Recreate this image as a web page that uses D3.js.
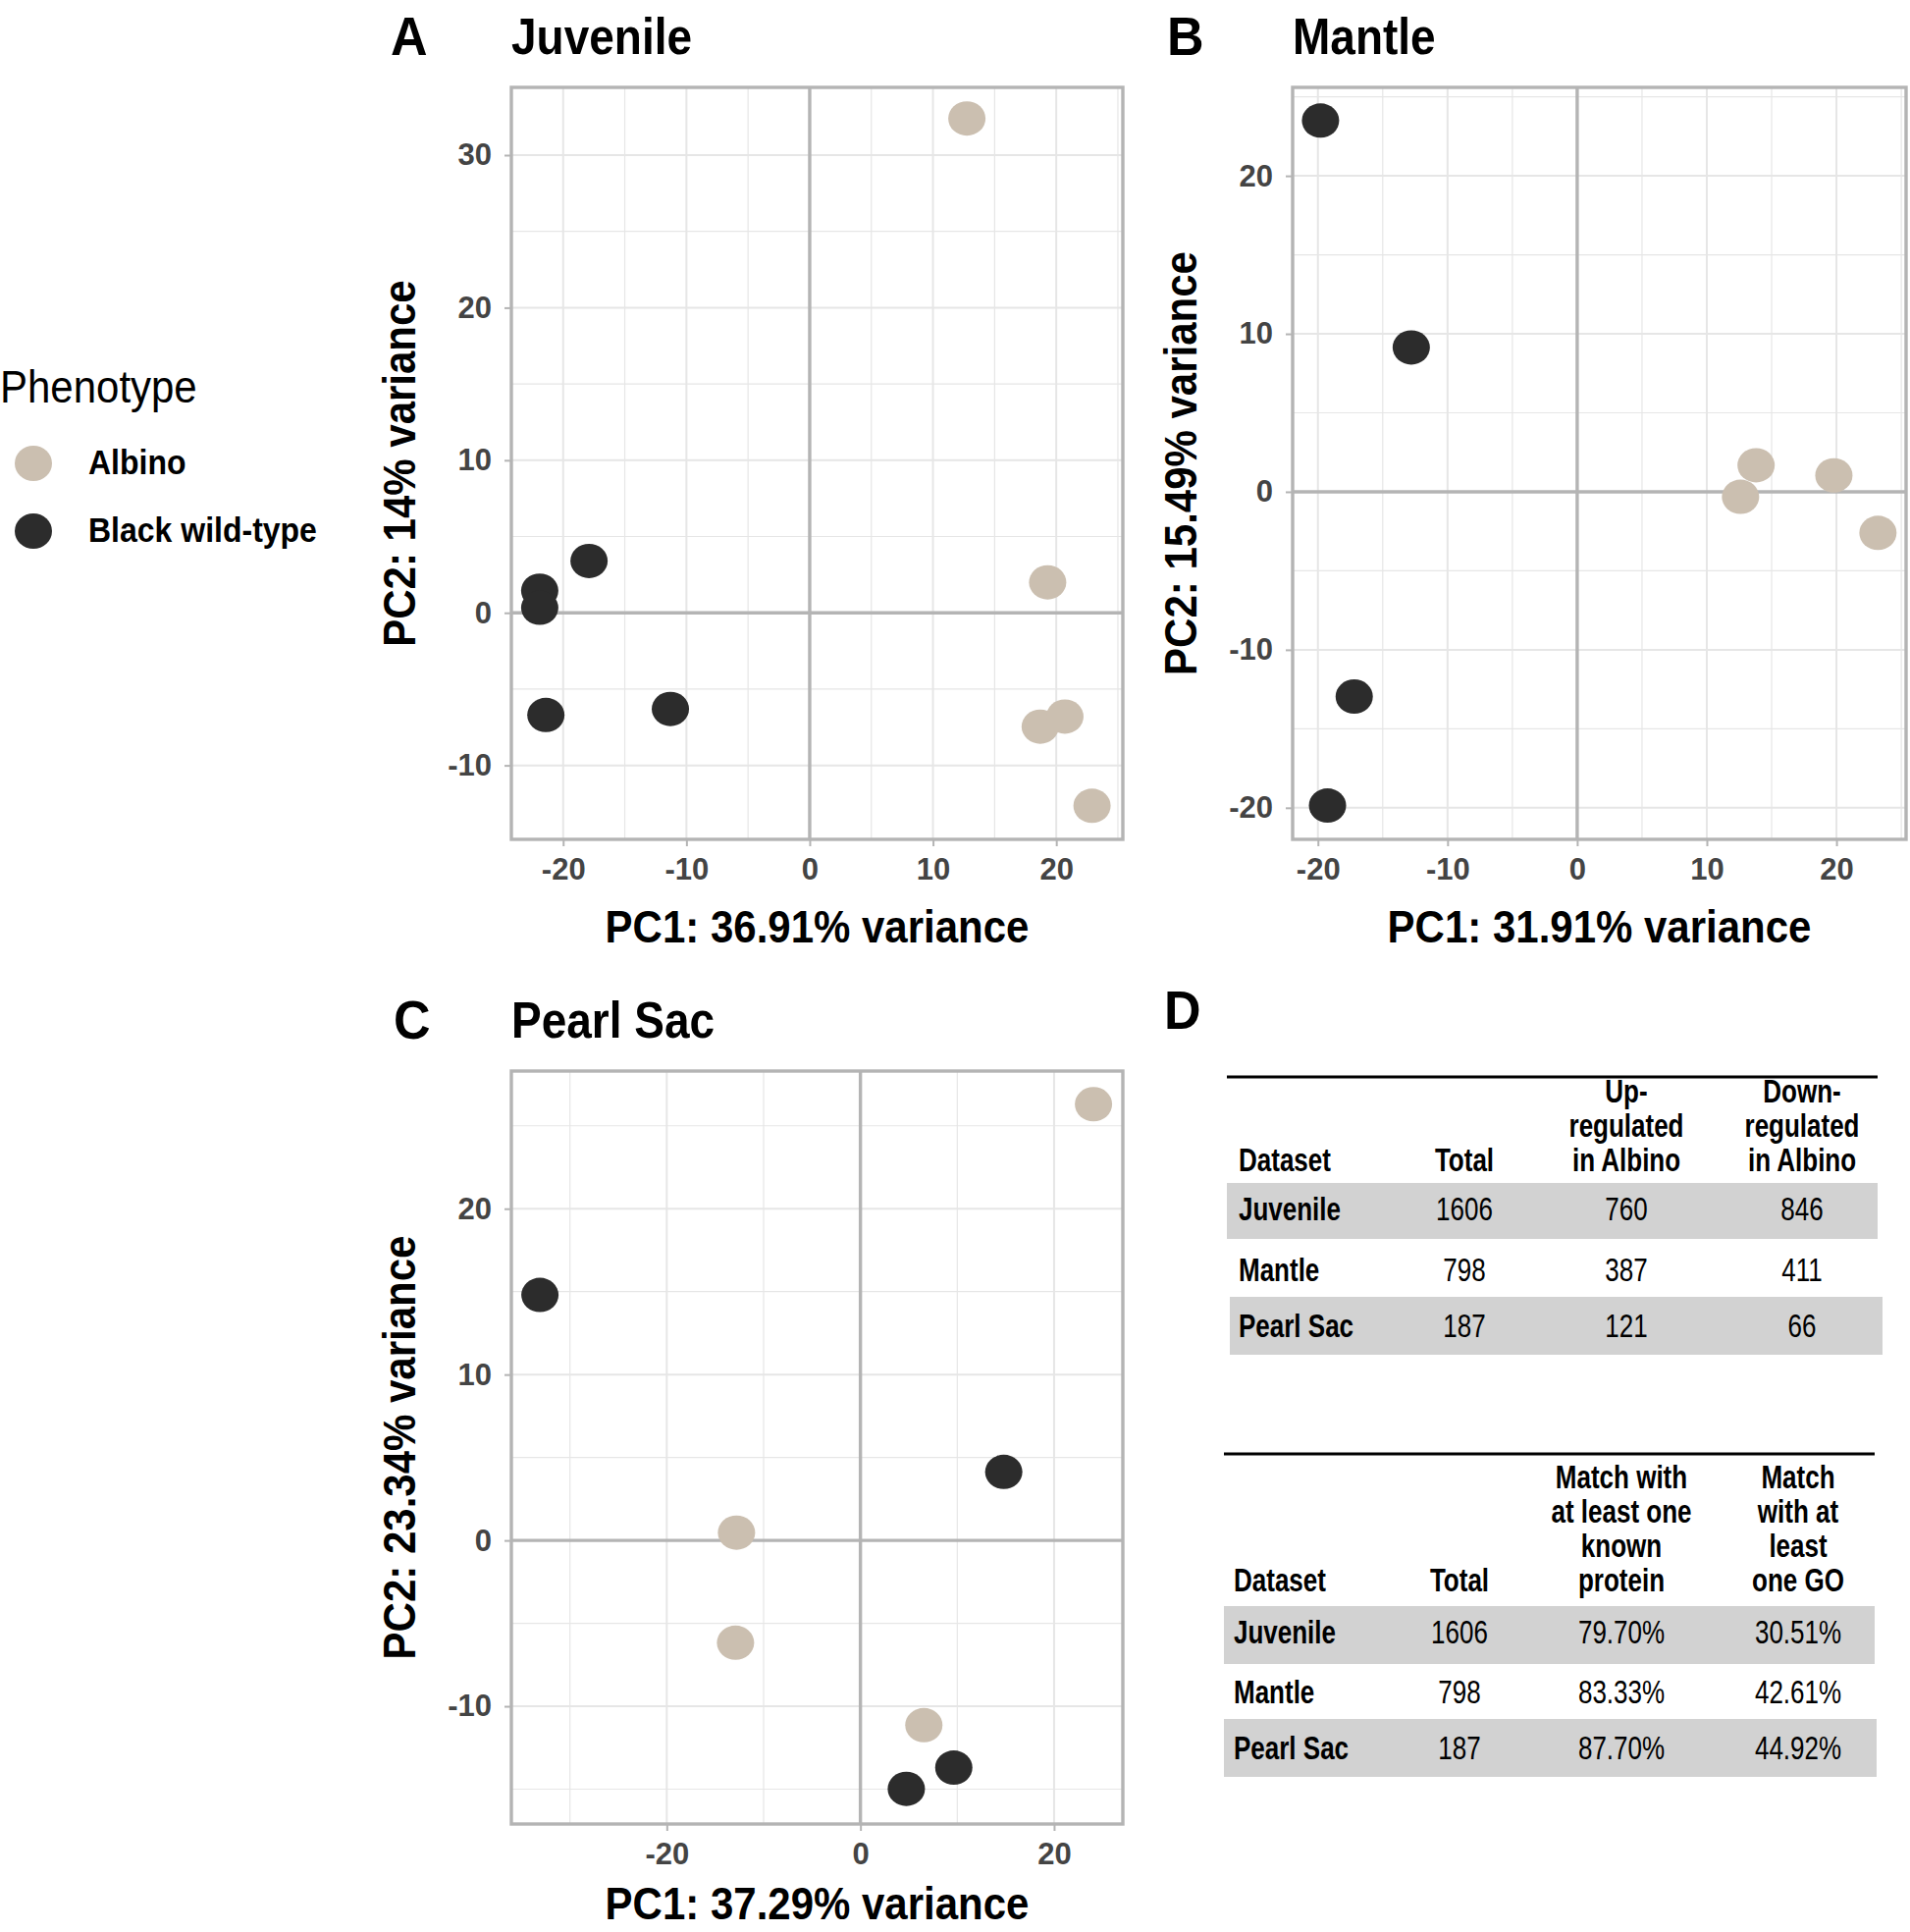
<!DOCTYPE html>
<html><head><meta charset="utf-8">
<script src="https://cdn.jsdelivr.net/npm/d3@7/dist/d3.min.js"></script>
<style>html,body{margin:0;padding:0;background:#fff;}svg{display:block;}</style>
</head><body>
<script>
// ---------- data ----------
const phenotypes = ["Albino", "Black wild-type"];
const phenoColors = ["#cbbfb0", "#2c2c2c"];

const juvenilePC1 = [12.75, 19.3, 18.7, 20.7, 22.9, -21.9, -21.9, -17.9, -21.4, -11.3];
const juvenilePC2 = [32.4, 2.0, -7.46, -6.8, -12.65, 1.45, 0.33, 3.4, -6.7, -6.3];
const juvenileGroup = ["Albino","Albino","Albino","Albino","Albino","Black wild-type","Black wild-type","Black wild-type","Black wild-type","Black wild-type"];

const mantlePC1 = [13.8, 12.6, 19.8, 23.2, -19.8, -12.8, -17.2, -19.26];
const mantlePC2 = [1.68, -0.32, 1.04, -2.6, 23.5, 9.14, -12.96, -19.86];
const mantleGroup = ["Albino","Albino","Albino","Albino","Black wild-type","Black wild-type","Black wild-type","Black wild-type"];

const pearlPC1 = [24.07, -12.8, -12.9, 6.55, -33.1, 14.8, 9.64, 4.74];
const pearlPC2 = [26.3, 0.47, -6.17, -11.14, 14.8, 4.13, -13.7, -14.98];
const pearlGroup = ["Albino","Albino","Albino","Albino","Black wild-type","Black wild-type","Black wild-type","Black wild-type"];

const juvenileXTicks = [-20, -10, 0, 10, 20];
const juvenileYTicks = [-10, 0, 10, 20, 30];
const mantleXTicks = [-20, -10, 0, 10, 20];
const mantleYTicks = [-20, -10, 0, 10, 20];
const pearlXTicks = [-20, 0, 20];
const pearlYTicks = [-10, 0, 10, 20];

const tableDatasets = ["Juvenile", "Mantle", "Pearl Sac"];
const degTotal = [1606, 798, 187];
const degUp = [760, 387, 121];
const degDown = [846, 411, 66];
const degHeaders = [["Dataset"], ["Total"], ["Up-", "regulated", "in Albino"], ["Down-", "regulated", "in Albino"]];

const annotTotal = [1606, 798, 187];
const annotProtein = ["79.70%", "83.33%", "87.70%"];
const annotGO = ["30.51%", "42.61%", "44.92%"];
const annotHeaders = [["Dataset"], ["Total"], ["Match with", "at least one", "known", "protein"], ["Match", "with at", "least", "one GO"]];

// ---------- drawing ----------
const W = 1946, H = 1968;
const FONT = "'Liberation Sans', Arial, Helvetica, sans-serif";
const svg = d3.select("body").append("svg").attr("width", W).attr("height", H)
  .style("font-family", FONT);

function txt(parent, x, y, s, o = {}) {
  let tr = `translate(${x},${y})`;
  if (o.rot) tr += ` rotate(${o.rot})`;
  tr += ` scale(1,${o.sy || 1})`;
  return parent.append("text").attr("transform", tr)
    .attr("text-anchor", o.anchor || "start")
    .attr("font-size", o.size || 20)
    .attr("font-weight", o.weight || "normal")
    .attr("fill", o.fill || "#000")
    .text(s);
}

const GRID = "#e6e6e6", BORDER = "#b4b4b4";

function panel(cfg) {
  const {left, right, top, bottom, xDom, yDom, xTicks, yTicks, pc1, pc2, grp, title, letter, letterX, xTitle, yTitle, yTitleX, xTitleOff} = cfg;
  const x = d3.scaleLinear().domain(xDom).range([left, right]);
  const y = d3.scaleLinear().domain(yDom).range([bottom, top]);
  const g = svg.append("g");
  const clipId = "clip" + letter;
  g.append("clipPath").attr("id", clipId).append("rect")
    .attr("x", left).attr("y", top).attr("width", right - left).attr("height", bottom - top);

  // minor + major grid
  const step = xTicks[1] - xTicks[0];
  const ystep = yTicks[1] - yTicks[0];
  const xMinor = d3.range(Math.ceil(xDom[0] / (step / 2)) * (step / 2), xDom[1], step / 2)
    .filter(v => !xTicks.includes(v));
  const yMinor = d3.range(Math.ceil(yDom[0] / (ystep / 2)) * (ystep / 2), yDom[1], ystep / 2)
    .filter(v => !yTicks.includes(v));
  const gg = g.append("g").attr("clip-path", `url(#${clipId})`);
  gg.selectAll(".vmin").data(xMinor).join("line")
    .attr("x1", d => x(d)).attr("x2", d => x(d)).attr("y1", top).attr("y2", bottom)
    .attr("stroke", GRID).attr("stroke-width", 1.2);
  gg.selectAll(".hmin").data(yMinor).join("line")
    .attr("y1", d => y(d)).attr("y2", d => y(d)).attr("x1", left).attr("x2", right)
    .attr("stroke", GRID).attr("stroke-width", 1.2);
  gg.selectAll(".vmaj").data(xTicks).join("line")
    .attr("x1", d => x(d)).attr("x2", d => x(d)).attr("y1", top).attr("y2", bottom)
    .attr("stroke", GRID).attr("stroke-width", 2);
  gg.selectAll(".hmaj").data(yTicks).join("line")
    .attr("y1", d => y(d)).attr("y2", d => y(d)).attr("x1", left).attr("x2", right)
    .attr("stroke", GRID).attr("stroke-width", 2);
  // zero lines
  gg.append("line").attr("x1", x(0)).attr("x2", x(0)).attr("y1", top).attr("y2", bottom)
    .attr("stroke", BORDER).attr("stroke-width", 3.4);
  gg.append("line").attr("y1", y(0)).attr("y2", y(0)).attr("x1", left).attr("x2", right)
    .attr("stroke", BORDER).attr("stroke-width", 3.4);

  // points
  const pts = pc1.map((v, i) => ({x: v, y: pc2[i], g: grp[i]}));
  const col = d3.scaleOrdinal().domain(phenotypes).range(phenoColors);
  g.append("g").selectAll("ellipse").data(pts).join("ellipse")
    .attr("cx", d => x(d.x)).attr("cy", d => y(d.y))
    .attr("rx", 19).attr("ry", 17.5)
    .attr("fill", d => col(d.g));

  // border
  g.append("rect").attr("x", left).attr("y", top).attr("width", right - left).attr("height", bottom - top)
    .attr("fill", "none").attr("stroke", BORDER).attr("stroke-width", 3.4);

  // axes
  const ax = g.append("g").attr("transform", `translate(0,${bottom})`)
    .call(d3.axisBottom(x).tickValues(xTicks).tickSize(7).tickPadding(12).tickFormat(d => String(d)));
  const ay = g.append("g").attr("transform", `translate(${left},0)`)
    .call(d3.axisLeft(y).tickValues(yTicks).tickSize(7).tickPadding(13).tickFormat(d => String(d)));
  [ax, ay].forEach(a => {
    a.select(".domain").remove();
    a.selectAll(".tick line").attr("stroke", BORDER).attr("stroke-width", 2);
    a.selectAll(".tick text").attr("font-size", 31).attr("font-weight", "bold")
      .attr("fill", "#444").attr("font-family", FONT);
  });

  // titles
  txt(svg, letterX, top - 33, letter, {size: 52, weight: "bold", sy: 1.06});
  txt(svg, left, top - 34, title, {size: 46, weight: "bold", sy: 1.12});
  txt(svg, (left + right) / 2, bottom + (xTitleOff || 105), xTitle, {size: 42, weight: "bold", anchor: "middle", sy: 1.12});
  txt(svg, yTitleX, (top + bottom) / 2, yTitle, {size: 42, weight: "bold", anchor: "middle", rot: -90, sy: 1.12});
}

panel({left: 521, right: 1144, top: 89, bottom: 855, xDom: [-24.2, 25.4], yDom: [-14.85, 34.44],
  xTicks: juvenileXTicks, yTicks: juvenileYTicks, pc1: juvenilePC1, pc2: juvenilePC2, grp: juvenileGroup,
  title: "Juvenile", letter: "A", letterX: 398, xTitle: "PC1: 36.91% variance", yTitle: "PC2: 14% variance", yTitleX: 423});

panel({left: 1317, right: 1942, top: 89, bottom: 855, xDom: [-21.95, 25.37], yDom: [-22.0, 25.6],
  xTicks: mantleXTicks, yTicks: mantleYTicks, pc1: mantlePC1, pc2: mantlePC2, grp: mantleGroup,
  title: "Mantle", letter: "B", letterX: 1189, xTitle: "PC1: 31.91% variance", yTitle: "PC2: 15.49% variance", yTitleX: 1219});

panel({left: 521, right: 1144, top: 1091, bottom: 1858, xDom: [-36.05, 27.1], yDom: [-17.1, 28.3],
  xTicks: pearlXTicks, yTicks: pearlYTicks, pc1: pearlPC1, pc2: pearlPC2, grp: pearlGroup,
  title: "Pearl Sac", letter: "C", letterX: 401, xTitle: "PC1: 37.29% variance", yTitle: "PC2: 23.34% variance", yTitleX: 423,
  xTitleOff: 97});

// legend
txt(svg, 0, 410, "Phenotype", {size: 42, sy: 1.1});
phenotypes.forEach((p, i) => {
  const cy = 472 + i * 69;
  svg.append("ellipse").attr("cx", 34).attr("cy", cy).attr("rx", 19).attr("ry", 18).attr("fill", phenoColors[i]);
  txt(svg, 90, cy + 11, p, {size: 32, weight: "bold", sy: 1.12});
});

// panel D
txt(svg, 1186, 1048, "D", {size: 52, weight: "bold", sy: 1.06});

function table(cfg) {
  const {x0, x1, ruleY, headers, headerBase, lineH, colX, rows, rowBase, bands, labelX} = cfg;
  const g = svg.append("g");
  bands.forEach(b => g.append("rect").attr("x", b[0]).attr("y", b[1]).attr("width", b[2]).attr("height", b[3]).attr("fill", "#d2d2d2"));
  g.append("line").attr("x1", x0).attr("x2", x1).attr("y1", ruleY).attr("y2", ruleY).attr("stroke", "#000").attr("stroke-width", 3);
  headers.forEach((h, c) => {
    const n = h.length;
    h.forEach((line, k) => {
      const yy = headerBase - (n - 1 - k) * lineH;
      txt(g, c === 0 ? labelX : colX[c], yy, line, {size: 26, weight: "bold", anchor: c === 0 ? "start" : "middle", sy: 1.3});
    });
  });
  rows.forEach((r, i) => {
    r.forEach((v, c) => {
      txt(g, c === 0 ? labelX : colX[c], rowBase[i], v, {size: 26, weight: c === 0 ? "bold" : "normal", anchor: c === 0 ? "start" : "middle", sy: 1.3});
    });
  });
}

table({x0: 1250, x1: 1913, ruleY: 1097, headers: degHeaders, headerBase: 1193, lineH: 35,
  colX: [0, 1492, 1657, 1836], labelX: 1262,
  rows: tableDatasets.map((d, i) => [d, degTotal[i], degUp[i], degDown[i]]),
  rowBase: [1243, 1305, 1362],
  bands: [[1250, 1205, 663, 57], [1253, 1321, 665, 59]]});

table({x0: 1247, x1: 1910, ruleY: 1481, headers: annotHeaders, headerBase: 1621, lineH: 35,
  colX: [0, 1487, 1652, 1832], labelX: 1257,
  rows: tableDatasets.map((d, i) => [d, annotTotal[i], annotProtein[i], annotGO[i]]),
  rowBase: [1674, 1735, 1792],
  bands: [[1247, 1636, 663, 59], [1247, 1751, 665, 59]]});
</script>
</body></html>
